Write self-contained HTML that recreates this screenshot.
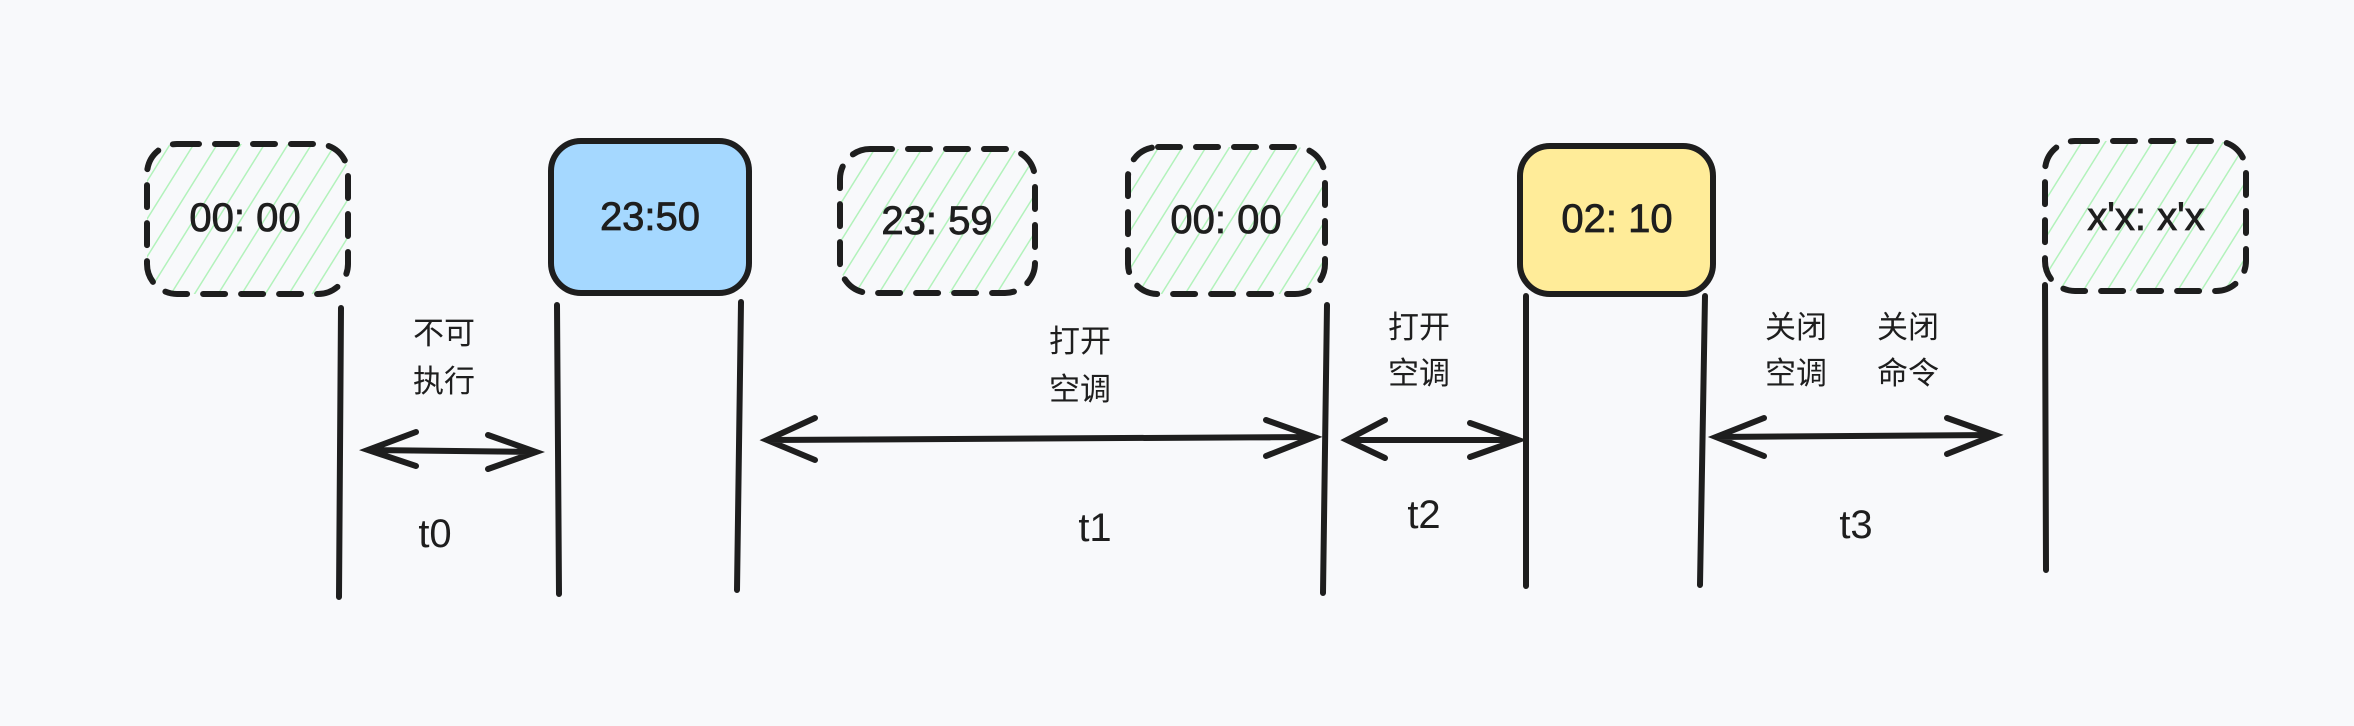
<!DOCTYPE html>
<html><head><meta charset="utf-8"><style>
html,body{margin:0;padding:0;background:#f8f9fb;}
svg{display:block}
text{font-family:"Liberation Sans","Noto Sans CJK SC",sans-serif;fill:#1e1e1e}
.b{font-size:40px;text-anchor:middle;dominant-baseline:central;stroke:#1e1e1e;stroke-width:0.8}
.c{font-size:31px;text-anchor:middle}
.t{font-size:40px;text-anchor:middle;dominant-baseline:central}
</style></head><body>
<svg width="2354" height="726" viewBox="0 0 2354 726" xmlns="http://www.w3.org/2000/svg">
<defs>
<pattern id="h" patternUnits="userSpaceOnUse" width="20" height="20" patternTransform="rotate(32)">
<line x1="0" y1="0" x2="0" y2="20" stroke="#b2f2bb" stroke-width="3"/>
</pattern>
</defs>
<rect width="2354" height="726" fill="#f8f9fb"/>
<g stroke="#1e1e1e" stroke-width="6" stroke-linecap="round">
<rect x="147" y="144" width="201" height="150" rx="30" fill="url(#h)" stroke-dasharray="22 16"/>
<rect x="551" y="141" width="198" height="152" rx="30" fill="#a5d8ff"/>
<rect x="840" y="149" width="195" height="144" rx="30" fill="url(#h)" stroke-dasharray="22 16"/>
<rect x="1128" y="147" width="197" height="147" rx="30" fill="url(#h)" stroke-dasharray="22 16"/>
<rect x="1520" y="146" width="193" height="148" rx="30" fill="#ffec99"/>
<rect x="2045" y="141" width="201" height="150" rx="30" fill="url(#h)" stroke-dasharray="22 16"/>
<line x1="341" y1="308" x2="339" y2="597"/>
<line x1="557" y1="305" x2="559" y2="594"/>
<line x1="741" y1="302" x2="737" y2="590"/>
<line x1="1327" y1="305" x2="1323" y2="593"/>
<line x1="1526" y1="296" x2="1526" y2="586"/>
<line x1="1705" y1="296" x2="1700" y2="585"/>
<line x1="2045" y1="285" x2="2046" y2="570"/>
<g fill="none">
<path d="M368 450 L536 452 M416 432 L368 450 L416 466 M488 435 L536 452 L488 469"/>
<path d="M767 440 L1314 437 M815 418 L767 440 L815 460 M1266 420 L1314 437 L1266 456"/>
<path d="M1347 440 L1518 440 M1385 420 L1347 440 L1385 458 M1470 423 L1518 440 L1470 457"/>
<path d="M1716 437 L1995 435 M1764 418 L1716 437 L1764 456 M1947 418 L1995 435 L1947 454"/>
</g>
</g>
<text class="b" x="245" y="218">00: 00</text>
<text class="b" x="650" y="217">23:50</text>
<text class="b" x="937" y="221">23: 59</text>
<text class="b" x="1226" y="220">00: 00</text>
<text class="b" x="1617" y="219">02: 10</text>
<text class="b" x="2146" y="217">x'x: x'x</text>
<text class="c" x="444" y="344">不可</text>
<text class="c" x="444" y="392">执行</text>
<text class="c" x="1080" y="352">打开</text>
<text class="c" x="1080" y="400">空调</text>
<text class="c" x="1419" y="338">打开</text>
<text class="c" x="1419" y="384">空调</text>
<text class="c" x="1796" y="338">关闭</text>
<text class="c" x="1796" y="384">空调</text>
<text class="c" x="1908" y="338">关闭</text>
<text class="c" x="1908" y="384">命令</text>
<text class="t" x="435" y="534">t0</text>
<text class="t" x="1095" y="528">t1</text>
<text class="t" x="1424" y="515">t2</text>
<text class="t" x="1856" y="525">t3</text>
</svg>
</body></html>
